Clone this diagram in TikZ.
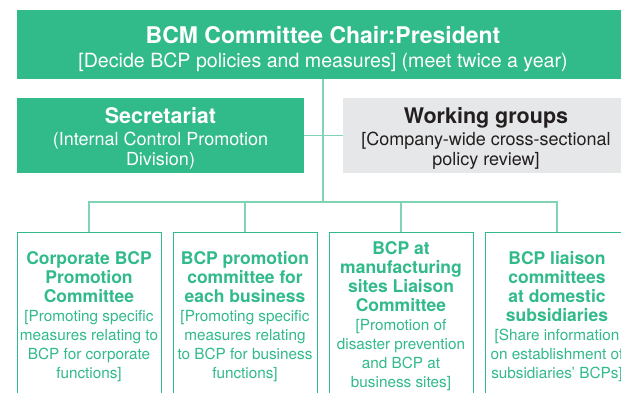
\documentclass[tikz,border=0pt]{standalone}
\usepackage{fontspec}
\setmainfont{TeX Gyre Heros}
\definecolor{bcmgreen}{RGB}{49,186,138}
\definecolor{linkgreen}{RGB}{128,211,179}
\definecolor{wggray}{RGB}{230,231,232}
\definecolor{wgtext}{RGB}{35,31,32}
\newcommand{\chairhead}[1]{{\fontsize{23}{25}\selectfont\bfseries\rule{0pt}{26pt}#1}}
\newcommand{\staffhead}[1]{{\fontsize{21.5}{20}\selectfont\bfseries\rule{0pt}{22pt}#1}}
\newcommand{\unithead}[1]{{\fontsize{17.5}{19}\selectfont\bfseries #1}}

\begin{document}
\begin{tikzpicture}[x=1pt, y=-1pt,
    greenbox/.style={fill=bcmgreen, text=white, align=center, inner sep=0pt,
        font=\fontsize{18}{20}\selectfont},
    graybox/.style={fill=wggray, text=wgtext, align=center, inner sep=0pt,
        font=\fontsize{18}{20}\selectfont},
    unitbox/.style={draw=bcmgreen, line width=1pt, fill=white, text=bcmgreen,
        align=center, inner sep=0pt, minimum width=144pt, minimum height=168pt,
        font=\fontsize{15.3}{19}\selectfont},
    link/.style={draw=linkgreen, line width=1.3pt}]
    \useasboundingbox (0,0) rectangle (621,392);
    \clip (0,0) rectangle (621,392);

    % chair and staff
    \node[greenbox, minimum width=612pt, minimum height=69pt,
        font=\fontsize{19.6}{24.5}\selectfont] (chair) at (323,44.5)
        {\chairhead{BCM Committee Chair:President}\\
         {[}Decide BCP policies and measures{]} (meet twice a year)};
    \node[greenbox, minimum width=287pt, minimum height=75pt] (secr) at (160.5,135.5)
        {\staffhead{Secretariat}\\[2pt]
         (Internal Control Promotion\\ Division)};
    \node[graybox, minimum width=286pt, minimum height=75pt] (work) at (486,135.5)
        {\staffhead{Working groups}\\[2pt]
         {[}Company-wide cross-sectional\\ policy review{]}};

    % committees
    \node[unitbox] (corp) at (89,316.5)
        {\unithead{Corporate BCP}\\ \unithead{Promotion}\\ \unithead{Committee}\\
         {[}Promoting specific\\ measures relating to\\ BCP for corporate\\ functions{]}};
    \node[unitbox] (biz) at (245,316.5)
        {\unithead{BCP promotion}\\ \unithead{committee for}\\ \unithead{each business}\\
         {[}Promoting specific\\ measures relating\\ to BCP for business\\ functions{]}};
    \node[unitbox] (site) at (401,316.5)
        {\unithead{BCP at}\\ \unithead{manufacturing}\\ \unithead{sites Liaison}\\ \unithead{Committee}\\
         {[}Promotion of\\ disaster prevention\\ and BCP at\\ business sites{]}};
    \node[unitbox] (subs) at (557,316.5)
        {\unithead{BCP liaison}\\ \unithead{committees}\\ \unithead{at domestic}\\ \unithead{subsidiaries}\\
         {[}Share information\\ on establishment of\\ subsidiaries’ BCPs{]}};

    \coordinate (split) at (323,202);

    \draw[link] (chair) -- (split);
    \draw[link] (secr) -- (work);
    \draw[link] (corp.north) |- (split) -| (subs.north);
    \draw[link] (biz.north) -- (biz.north |- split);
    \draw[link] (site.north) -- (site.north |- split);
\end{tikzpicture}
\end{document}
